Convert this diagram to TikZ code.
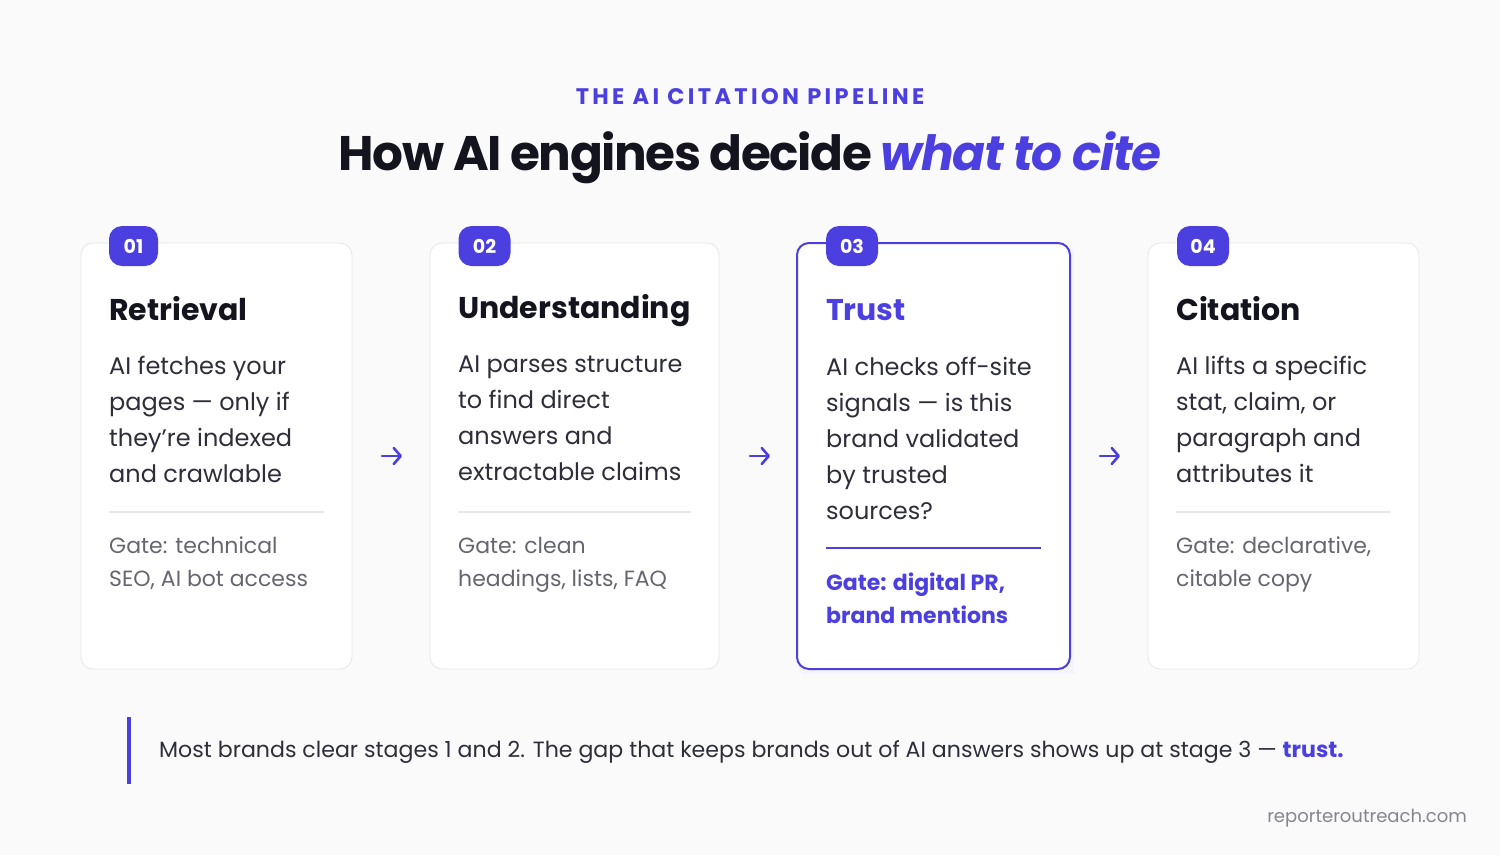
\documentclass[tikz,border=0pt]{standalone}
\usepackage{fontspec}
\setmainfont{Poppins}
\newfontfamily\popsp[LetterSpace=15]{Poppins}
\usetikzlibrary{arrows.meta}
\definecolor{bg}{HTML}{FAFAFB}
\definecolor{acc}{HTML}{4B3FE0}
\definecolor{ink}{HTML}{14141F}
\definecolor{body}{HTML}{2E2E3A}
\definecolor{gate}{HTML}{66666F}
\definecolor{bord}{HTML}{E6E6EC}
\tikzset{
 card/.style={draw=bord, fill=white, rounded corners=12pt, line width=0.8pt},
 badge/.style={fill=acc, text=white, rounded corners=13pt, minimum width=49pt, minimum height=40pt, inner sep=0pt, font=\fontsize{19}{19}\selectfont\bfseries},
 ttl/.style={anchor=west, inner sep=0pt, font=\fontsize{30}{30}\selectfont\bfseries, text=ink},
 txt/.style={anchor=north west, inner sep=0pt, align=left, font=\fontsize{24}{36}\selectfont, text=body},
 gt/.style={anchor=north west, inner sep=0pt, align=left, font=\fontsize{22}{33}\selectfont, text=gate},
 arr/.style={-{Straight Barb[length=7pt,width=16pt,line cap=round,line join=round]}, draw=acc, line width=2.6pt, line cap=round},
}
\begin{document}
\begin{tikzpicture}[x=1pt,y=-1pt]
\fill[bg] (0,0) rectangle (1500,855);
\useasboundingbox (0,0) rectangle (1500,855);
\node (sub) at (750,97) {\popsp\fontsize{22.5}{22.5}\selectfont\bfseries\color{acc}THE AI CITATION PIPELINE};
\node (ttl) at (750,158) {\fontsize{48.5}{48.5}\selectfont\bfseries\color{ink}\addfontfeatures{LetterSpace=-3}How AI engines decide \itshape\color{acc}what to cite};
% cards
\draw[card] (81,243) rectangle (352,669);
\draw[card] (430,243) rectangle (719,669);
\fill[acc!6] (801,249) rectangle (1074,674);
\draw[card, draw=acc, line width=2pt] (797,243) rectangle (1070,669);
\draw[card] (1148,243) rectangle (1419,669);
\node[badge] (b1) at (133.5,246) {01};
\node[badge, minimum width=52pt] (b2) at (484.5,246) {02};
\node[badge, minimum width=52pt] (b3) at (852,246) {03};
\node[badge, minimum width=52pt] (b4) at (1203,246) {04};
\node[ttl] (t1) at (109,309) {Retrieval};
\node[ttl] (t2) at (458,311) {Understanding};
\node[ttl, text=acc] (t3) at (826,310) {Trust};
\node[ttl] (t4) at (1176,309) {Citation};
\node[txt] (x1) at (109,356) {AI fetches your\\pages — only if\\they're indexed\\and crawlable};
\node[txt] (x2) at (458,356) {AI parses structure\\to find direct\\answers and\\extractable claims};
\node[txt] (x3) at (826,357) {AI checks off-site\\signals — is this\\brand validated\\by trusted\\sources?};
\node[txt] (x4) at (1176,356) {AI lifts a specific\\stat, claim, or\\paragraph and\\attributes it};
\draw[bord, line width=1.5pt] (109,512) -- (324,512);
\draw[bord, line width=1.5pt] (458,512) -- (691,512);
\draw[acc, line width=2pt] (826,548) -- (1041,548);
\draw[bord, line width=1.5pt] (1176,512) -- (1391,512);
\node[gt] (g1) at (109,537) {Gate: technical\\SEO, AI bot access};
\node[gt] (g2) at (458,537) {Gate: clean\\headings, lists, FAQ};
\node[gt, text=acc, font=\fontsize{22}{33}\selectfont\bfseries] (g3) at (826,573) {Gate: digital PR,\\brand mentions};
\node[gt] (g4) at (1176,537) {Gate: declarative,\\citable copy};
\coordinate (a1s) at (382,456); \coordinate (a1e) at (402,456);
\coordinate (a2s) at (750,456); \coordinate (a2e) at (770,456);
\coordinate (a3s) at (1100,456); \coordinate (a3e) at (1120,456);
\draw[arr] (a1s) -- (a1e);
\draw[arr] (a2s) -- (a2e);
\draw[arr] (a3s) -- (a3e);
\draw[acc, line width=4pt] (129,717) -- (129,784);
\node[anchor=west, inner sep=0pt, font=\fontsize{22.1}{22.1}\selectfont, text=body] (note) at (159,752) {Most brands clear stages 1 and 2. The gap that keeps brands out of AI answers shows up at stage 3 — \textbf{\color{acc}trust.}};
\node[anchor=east, inner sep=0pt, font=\fontsize{18}{18}\selectfont, text=gate!80] (foot) at (1467,818) {reporteroutreach.com};
\end{tikzpicture}
\end{document}
